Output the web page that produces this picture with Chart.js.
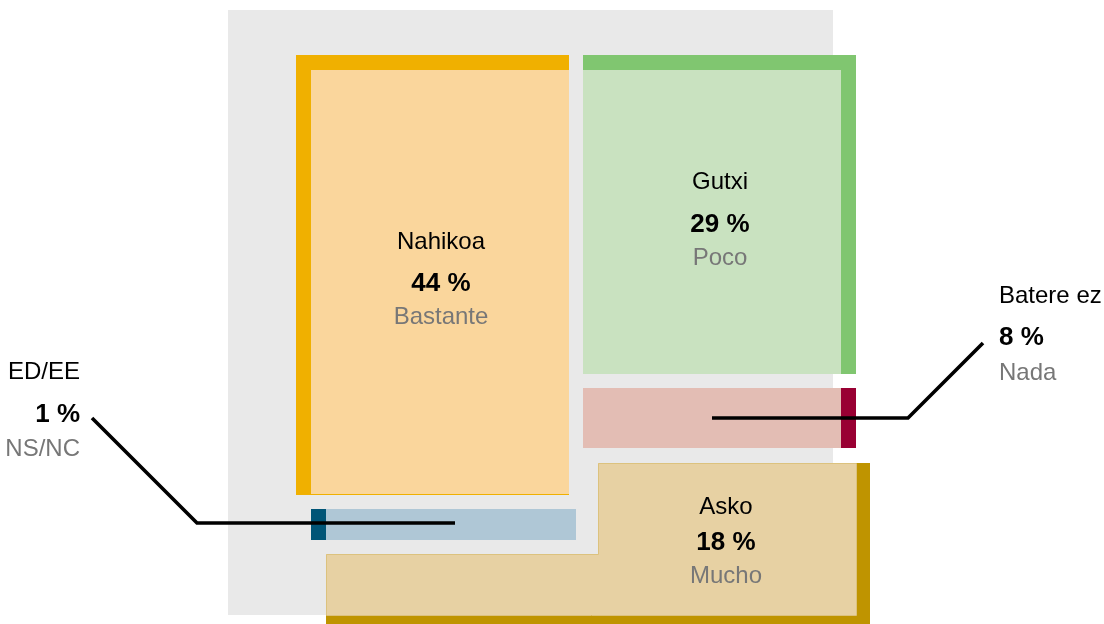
<!DOCTYPE html>
<html>
<head>
<meta charset="utf-8">
<script src="https://cdn.jsdelivr.net/npm/chart.js@4/dist/chart.umd.min.js"></script>
<style>
html,body{margin:0;padding:0;background:#fff;}
#wrap{width:1104px;height:624px;position:relative;}
</style>
</head>
<body>
<div id="wrap"><canvas id="c" width="1104" height="624"></canvas></div>
<script>
// ---- data ----
const categories = ['Nahikoa', 'Gutxi', 'Batere ez', 'Asko', 'ED/EE'];
const subLabels = ['Bastante', 'Poco', 'Nada', 'Mucho', 'NS/NC'];
const values = [44, 29, 8, 18, 1];

// ---- styles ----
const stripeColors = ['#f0b000', '#80c670', '#990033', '#bf9400', '#005577'];
const fillColors = ['#fad69c', '#c9e2c0', '#e3bdb4', '#e7d1a3', '#afc7d6'];

// ---- layout (in scale units = px) ----
const layout = {
  background: [228, 10, 833, 615],
  shapes: [
    { stripe: [[296,55],[569,55],[569,495],[296,495]], fill: [[311,70],[569,70],[569,494],[311,494]] },
    { stripe: [[583,55],[856,55],[856,374],[583,374]], fill: [[583,70],[841,70],[841,374],[583,374]] },
    { stripe: [[583,388],[856,388],[856,448],[583,448]], fill: [[583,388],[841,388],[841,448],[583,448]] },
    { stripe: [[598,463],[870,463],[870,632],[326,632],[326,554],[598,554]],
      fill: [[598,463],[856,463],[856,615],[326,615],[326,554],[598,554]], border: '#dcc27e' },
    { stripe: [[311,509],[326,509],[326,540],[311,540]], fill: [[326,509],[576,509],[576,540],[326,540]] }
  ],
  labels: [
    { x: 441, align: 'center', y: [249, 291, 324] },
    { x: 720, align: 'center', y: [189, 232, 265] },
    { x: 999, align: 'left', y: [303, 345, 380] },
    { x: 726, align: 'center', y: [514, 550, 583] },
    { x: 80, align: 'right', y: [379, 422, 456] }
  ],
  leaders: [
    null, null,
    [[712,418],[908,418],[983,343]],
    null,
    [[455,523],[197,523],[92,418]]
  ]
};

const shapesPlugin = {
  id: 'shapes',
  beforeDatasetsDraw(chart) {
    const ctx = chart.ctx;
    const xs = chart.scales.x, ys = chart.scales.y;
    const px = v => xs.getPixelForValue(v);
    const py = v => ys.getPixelForValue(v);
    const poly = pts => {
      ctx.beginPath();
      pts.forEach((p, i) => i ? ctx.lineTo(px(p[0]), py(p[1])) : ctx.moveTo(px(p[0]), py(p[1])));
      ctx.closePath();
    };
    ctx.save();
    const b = layout.background;
    ctx.fillStyle = '#e9e9e9';
    ctx.fillRect(px(b[0]), py(b[1]), px(b[2]) - px(b[0]), py(b[3]) - py(b[1]));
    categories.forEach((c, i) => {
      const s = layout.shapes[i];
      poly(s.stripe); ctx.fillStyle = stripeColors[i]; ctx.fill();
      poly(s.fill); ctx.fillStyle = fillColors[i]; ctx.fill();
      if (s.border) {
        ctx.strokeStyle = s.border; ctx.lineWidth = 1;
        ctx.beginPath();
        const f = s.fill;
        f.forEach((p, k) => k ? ctx.lineTo(px(p[0]) + 0.5, py(p[1]) + 0.5) : ctx.moveTo(px(p[0]) + 0.5, py(p[1]) + 0.5));
        ctx.closePath();
        ctx.stroke();
      }
    });
    // leader lines
    ctx.strokeStyle = '#000'; ctx.lineWidth = 3.6; ctx.lineJoin = 'miter';
    layout.leaders.forEach(l => {
      if (!l) return;
      ctx.beginPath();
      l.forEach((p, k) => k ? ctx.lineTo(px(p[0]), py(p[1])) : ctx.moveTo(px(p[0]), py(p[1])));
      ctx.stroke();
    });
    // labels
    const fam = '"Liberation Sans", Arial, sans-serif';
    categories.forEach((c, i) => {
      const L = layout.labels[i];
      ctx.textAlign = L.align; ctx.textBaseline = 'alphabetic';
      ctx.font = '24px ' + fam; ctx.fillStyle = '#000';
      ctx.fillText(c, px(L.x), py(L.y[0]));
      ctx.font = 'bold 26px ' + fam; ctx.fillStyle = '#000';
      ctx.fillText(values[i] + ' %', px(L.x), py(L.y[1]));
      ctx.font = '24px ' + fam; ctx.fillStyle = '#777';
      ctx.fillText(subLabels[i], px(L.x), py(L.y[2]));
    });
    ctx.restore();
  }
};

new Chart(document.getElementById('c'), {
  type: 'scatter',
  data: { datasets: [{ data: [], pointRadius: 0 }] },
  options: {
    responsive: false,
    animation: false,
    devicePixelRatio: 1,
    layout: { padding: 0 },
    plugins: { legend: { display: false }, tooltip: { enabled: false } },
    scales: {
      x: { type: 'linear', min: 0, max: 1104, display: false },
      y: { type: 'linear', min: 0, max: 624, reverse: true, display: false }
    }
  },
  plugins: [shapesPlugin]
});
</script>
</body>
</html>
